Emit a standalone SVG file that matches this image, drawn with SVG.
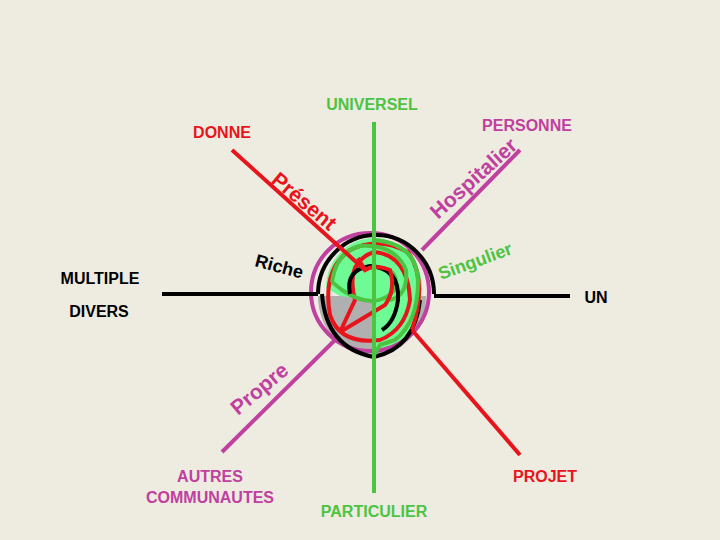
<svg xmlns="http://www.w3.org/2000/svg" width="720" height="540" viewBox="0 0 720 540">
<style>
.t{font-family:"Liberation Sans",Arial,sans-serif;font-weight:bold;font-size:16px}
.r{stroke:#e8141c;fill:none;stroke-width:4}
.g{stroke:#4cc442;fill:none;stroke-width:4}
.p{stroke:#c040a0;fill:none;stroke-width:4}
.k{stroke:#000;fill:none;stroke-width:4}
</style>
<rect width="720" height="540" fill="#eeebe0"/>
<g id="center">
<path d="M318 296 A54 60 0 0 0 426 296 Z" fill="#b0b0b0"/>
<path d="M326 288 A48 50 0 0 1 422 288 L418 320 Q400 350 374 350 L374 300 L340 296 Z" fill="#6efa94"/>
<circle class="p" cx="370" cy="292" r="59"/>
<path class="k" d="M318 294 A57 58 0 0 1 434 294"/>
<path class="k" d="M322 294 Q326 348 374 357 Q415 348 420 300"/>
<path class="r" d="M340 332 L355 300 Q345 262 374 252 Q408 255 410 300 Q405 330 380 340 Q340 345 330 315 Q322 270 350 250 Q378 236 408 252 Q428 280 412 330"/>
<path class="g" d="M374 240 Q418 244 418 282 Q418 322 395 340 L380 345 L374 355"/>
<path class="g" d="M332 282 Q336 252 360 246 Q395 244 406 270 Q408 296 390 300"/>
<path class="g" d="M332 282 L342 290 Q375 312 395 290 Q400 270 380 268"/>
<path class="k" d="M350 294 Q345 270 370 266 Q400 268 398 300 Q395 322 382 330"/>
<path class="r" d="M358 258 L365 270 Q374 264 390 270 Q396 290 385 305 Q360 320 340 332"/>
</g>
<g id="connectors">
<line class="g" x1="374" y1="122" x2="374" y2="493"/>
<line class="r" x1="232" y1="150" x2="365" y2="270"/>
<line class="r" x1="412" y1="330" x2="520" y2="455"/>
<line class="p" x1="520" y1="150" x2="422" y2="250"/>
<line class="p" x1="335" y1="340" x2="222" y2="452"/>
<line class="k" x1="162" y1="294" x2="318" y2="294"/>
<line class="k" x1="434" y1="296" x2="570" y2="296"/>
</g>
<g id="labels" class="t">
<text x="372" y="110" text-anchor="middle" fill="#4cc442">UNIVERSEL</text>
<text x="527" y="131" text-anchor="middle" fill="#c040a0">PERSONNE</text>
<text x="222" y="138" text-anchor="middle" fill="#e8141c">DONNE</text>
<text x="100" y="284" text-anchor="middle">MULTIPLE</text>
<text x="99" y="317" text-anchor="middle">DIVERS</text>
<text x="596" y="303" text-anchor="middle">UN</text>
<text x="210" y="482" text-anchor="middle" fill="#c040a0">AUTRES</text>
<text x="210" y="503" text-anchor="middle" fill="#c040a0">COMMUNAUTES</text>
<text x="545" y="482" text-anchor="middle" fill="#e8141c">PROJET</text>
<text x="374" y="517" text-anchor="middle" fill="#4cc442">PARTICULIER</text>
<text transform="translate(270,182) rotate(40)" fill="#e8141c" font-size="21">Présent</text>
<text transform="translate(438,220) rotate(-42)" fill="#c040a0" font-size="21">Hospitalier</text>
<text transform="translate(254,266) rotate(15)" font-size="18">Riche</text>
<text transform="translate(441,280) rotate(-20)" fill="#4cc442" font-size="18">Singulier</text>
<text transform="translate(238,416) rotate(-40)" fill="#c040a0" font-size="21">Propre</text>
</g>
</svg>
